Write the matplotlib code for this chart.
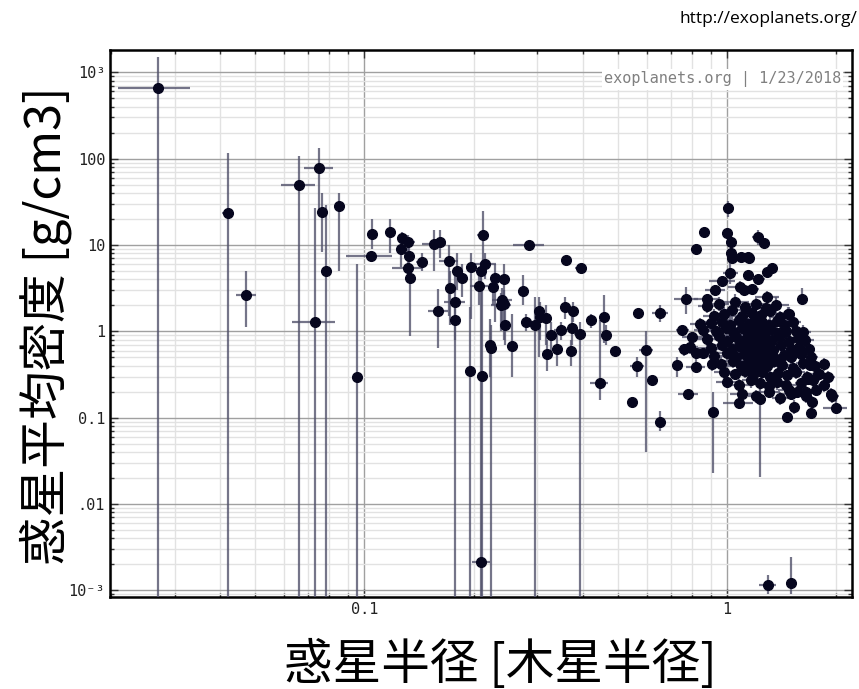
import numpy as np
import matplotlib.pyplot as plt
from matplotlib.ticker import FixedLocator, FixedFormatter, LogLocator, NullFormatter

plt.rcParams['font.family'] = ['Noto Sans CJK JP', 'DejaVu Sans']

BOT = 1e-5  # lower error bar running off the bottom of the plot

# small / mid-size planets: radius [R_J], density [g/cm3], radius error, density bounds
small_radius = [0.027, 0.042, 0.0472, 0.066, 0.075, 0.0765, 0.073, 0.0785, 0.085, 0.0955,
                0.104, 0.105, 0.118, 0.127, 0.1265, 0.132, 0.133, 0.132, 0.134, 0.144,
                0.156, 0.162, 0.16, 0.171, 0.172, 0.178, 0.178, 0.18, 0.186, 0.197,
                0.196, 0.207, 0.21, 0.212, 0.21, 0.211, 0.215, 0.222, 0.224, 0.229,
                0.226, 0.242, 0.24, 0.238, 0.243, 0.244, 0.256, 0.273, 0.279, 0.285,
                0.296, 0.303, 0.305, 0.316, 0.327, 0.318, 0.34, 0.348, 0.357, 0.359,
                0.375, 0.374, 0.372, 0.394, 0.396, 0.421, 0.459, 0.445, 0.464, 0.49,
                0.547, 0.565, 0.568, 0.598, 0.621, 0.654, 0.652, 0.725]
small_density = [658, 23.6, 2.65, 49.5, 78, 24, 1.27, 5.0, 28, 0.295,
                 7.4, 13.4, 14.1, 11.9, 8.9, 10.9, 7.5, 5.44, 4.2, 6.3,
                 10.2, 10.7, 1.73, 6.6, 3.2, 2.2, 1.37, 5.0, 4.2, 5.5,
                 0.352, 3.37, 5.0, 12.9, 0.00215, 0.303, 6.1, 0.69, 0.65, 4.1,
                 3.3, 4.0, 2.3, 2.0, 2.05, 1.2, 0.67, 2.95, 1.28, 10.0,
                 1.2, 1.71, 1.47, 1.43, 0.9, 0.54, 0.63, 1.03, 1.92, 6.68,
                 1.71, 1.08, 0.585, 0.92, 5.36, 1.35, 1.47, 0.25, 0.9, 0.59,
                 0.152, 0.40, 1.61, 0.605, 0.272, 1.61, 0.089, 0.41]
small_rerr = [0.006, 0.0015, 0.003, 0.007, 0.007, 0.002, 0.010, 0.001, 0.001, 0.001,
              0.015, 0.002, 0.002, 0.004, 0.003, 0.006, 0.003, 0.013, 0.002, 0.005,
              0.012, 0.003, 0.010, 0.010, 0.004, 0.012, 0.006, 0.005, 0.003, 0.004,
              0.002, 0.012, 0.005, 0.008, 0.012, 0.002, 0.015, 0.002, 0.002, 0.005,
              0.004, 0.010, 0.015, 0.015, 0.006, 0.008, 0.004, 0.008, 0.003, 0.028,
              0.010, 0.005, 0.004, 0.005, 0.008, 0.005, 0.004, 0.015, 0.008, 0.003,
              0.004, 0.004, 0.004, 0.015, 0.015, 0.003, 0.003, 0.025, 0.005, 0.012,
              0.004, 0.025, 0.004, 0.025, 0.010, 0.035, 0.003, 0.003]
small_dmin = [BOT, BOT, 1.12, BOT, 25, 8.3, BOT, BOT, 5, BOT,
              7.4, 9, 8, 8, 5.5, 8, 5, 4, 0.89, 5,
              5, 7, 0.65, 1.5, 1.2, 0.8, BOT, 3, 2.5, 1.4,
              BOT, 2, 3, 6.3, BOT, BOT, 4, 0.3, BOT, 1.3,
              2, 2.5, 1.3, 1.0, 0.8, 0.7, 0.3, 2, 1.0, 10.0,
              BOT, 0.5, 0.8, 0.7, 0.5, 0.35, 0.4, 0.8, 1.4, 6.68,
              1.3, 0.7, 0.4, BOT, 5.36, 1.1, 0.73, 0.16, 0.7, 0.59,
              0.152, 0.3, 1.61, 0.04, 0.272, 1.3, 0.07, 0.3]
small_dmax = [1500, 116, 5.0, 108, 131, 40, 27, 29, 40, 6,
              7.4, 20, 20, 14, 12, 13, 11, 7, 6, 8,
              15, 15, 3.1, 10, 5, 5, 2, 8, 6, 8,
              1.9, 5, 6, 25, 6.3, 3, 8, 1.4, 1.2, 6,
              4.5, 6, 3.2, 2.8, 3, 1.8, 1.6, 4.5, 1.6, 10.0,
              2.5, 2.5, 2.2, 2.0, 1.3, 0.8, 0.95, 1.3, 2.5, 6.68,
              2.2, 1.5, 0.8, 1.3, 5.36, 1.6, 2.6, 1.35, 1.2, 0.59,
              0.152, 0.5, 1.61, 1.0, 0.272, 2.0, 0.12, 0.5]

# giant planets around the edge of the cluster
giant_radius = [0.772, 0.753, 0.78, 0.821, 0.864, 1.002, 1.008, 1.026, 1.215, 1.265,
                1.026, 1.032, 1.09, 1.14, 1.15, 1.325, 1.289, 1.021, 1.143, 1.218,
                0.969, 0.928, 1.088, 1.11, 1.174, 0.881, 1.61, 1.29, 1.479, 0.762,
                0.792, 0.818, 0.821, 0.909, 0.915, 1.076, 1.228, 1.464, 1.533, 1.687,
                1.665, 1.79, 1.716, 1.928, 1.989, 1.56, 1.644, 1.753, 1.479, 1.51,
                1.698, 1.294, 1.495]
giant_density = [2.38, 1.03, 0.19, 8.9, 14.0, 13.6, 26.5, 10.9, 12.4, 10.4,
                 8.0, 7.0, 7.3, 7.3, 7.0, 5.44, 4.8, 4.7, 4.5, 4.0,
                 3.85, 3.0, 3.3, 3.0, 3.1, 2.34, 2.4, 2.47, 1.58, 0.62,
                 0.66, 0.555, 0.39, 0.417, 0.116, 0.15, 0.163, 0.102, 0.133, 0.406,
                 0.284, 0.325, 0.152, 0.19, 0.131, 0.2, 0.2, 0.208, 0.208, 0.564,
                 0.112, 0.00115, 0.00123]
giant_rerr = [0.06, 0.03, 0.05, 0.01, 0.015, 0.02, 0.035, 0.02, 0.045, 0.02,
              0.02, 0.03, 0.03, 0.04, 0.03, 0.02, 0.03, 0.05, 0.04, 0.05,
              0.08, 0.06, 0.08, 0.05, 0.05, 0.07, 0.03, 0.1, 0.04, 0.03,
              0.04, 0.03, 0.05, 0.03, 0.03, 0.1, 0.05, 0.04, 0.03, 0.05,
              0.04, 0.06, 0.04, 0.03, 0.15, 0.05, 0.04, 0.05, 0.1, 0.04,
              0.04, 0.07, 0.015]
giant_dmin = [1.6, 1.03, 0.19, 8.9, 14, 13.6, 21, 10.9, 10, 10.4,
              6.5, 7.0, 7.3, 7.3, 6.5, 5.0, 4.3, 3.5, 4.0, 3.5,
              3.4, 2.6, 2.8, 2.6, 2.7, 2.0, 2.0, 2.1, 1.3, 0.52,
              0.55, 0.45, 0.33, 0.35, 0.0228, 0.13, 0.0206, 0.09, 0.11, 0.35,
              0.24, 0.28, 0.13, 0.16, 0.11, 0.17, 0.17, 0.18, 0.18, 0.48,
              0.1, 0.0009, 0.0009]
giant_dmax = [3.3, 1.03, 0.19, 8.9, 14, 13.6, 32, 10.9, 15, 10.4,
              9.5, 7.0, 7.3, 7.3, 7.5, 6.0, 5.3, 7.0, 5.0, 4.5,
              4.3, 3.4, 3.8, 3.4, 3.5, 2.7, 3.2, 2.9, 1.9, 0.72,
              0.77, 0.65, 0.45, 0.48, 0.2, 0.17, 0.25, 0.115, 0.16, 0.46,
              0.33, 0.37, 0.18, 0.22, 0.16, 0.23, 0.23, 0.24, 0.24, 0.65,
              0.125, 0.0015, 0.00244]

# dense core of hot Jupiters (symmetric errors)
core_radius = [0.95, 1.05, 1.12, 1.2, 1.28, 1.36, 0.88,
               0.98, 1.03, 1.1, 1.17, 1.24, 1.31, 1.4, 1.47, 0.92,
               0.9, 0.97, 1.02, 1.08, 1.14, 1.19, 1.25, 1.3, 1.37, 1.43, 1.52, 0.84,
               0.86, 0.93, 0.99, 1.04, 1.1, 1.15, 1.2, 1.26, 1.32, 1.38, 1.45, 1.55, 1.62,
               0.88, 0.95, 1.0, 1.06, 1.12, 1.17, 1.22, 1.27, 1.33, 1.4, 1.48, 1.57, 1.64, 0.8,
               0.9, 0.97, 1.03, 1.08, 1.13, 1.18, 1.23, 1.28, 1.34, 1.41, 1.5, 1.58, 1.68,
               0.92, 1.0, 1.06, 1.11, 1.16, 1.21, 1.26, 1.31, 1.36, 1.43, 1.5, 1.6, 1.7, 0.86,
               0.96, 1.04, 1.09, 1.14, 1.19, 1.24, 1.29, 1.35, 1.42, 1.52, 1.62, 1.75, 1.85,
               0.98, 1.05, 1.12, 1.18, 1.25, 1.31, 1.38, 1.46, 1.55, 1.66, 1.78, 1.9,
               1.0, 1.08, 1.16, 1.23, 1.3, 1.37, 1.45, 1.6, 1.72, 1.85,
               1.1, 1.2, 1.3, 1.4, 1.5, 1.65, 1.95,
               1.12, 1.15, 1.18, 1.2, 1.22, 1.25, 1.14, 1.19, 1.24, 1.16, 1.21, 1.27, 1.13, 1.23]
core_density = [2.1, 2.2, 1.9, 2.05, 1.85, 2.0, 1.95,
                1.6, 1.75, 1.5, 1.65, 1.55, 1.7, 1.45, 1.6, 1.5,
                1.25, 1.3, 1.2, 1.35, 1.22, 1.4, 1.28, 1.18, 1.32, 1.2, 1.3, 1.22,
                1.05, 1.0, 1.1, 0.97, 1.08, 0.98, 1.12, 1.0, 1.06, 0.95, 1.02, 1.0, 0.98,
                0.82, 0.88, 0.78, 0.85, 0.8, 0.9, 0.76, 0.86, 0.8, 0.88, 0.78, 0.84, 0.8, 0.85,
                0.65, 0.7, 0.62, 0.68, 0.6, 0.72, 0.64, 0.69, 0.61, 0.7, 0.63, 0.66, 0.62,
                0.52, 0.56, 0.5, 0.55, 0.49, 0.57, 0.51, 0.55, 0.48, 0.53, 0.5, 0.55, 0.5, 0.56,
                0.42, 0.45, 0.4, 0.44, 0.39, 0.43, 0.4, 0.45, 0.41, 0.38, 0.43, 0.4, 0.42,
                0.34, 0.32, 0.35, 0.31, 0.34, 0.3, 0.33, 0.31, 0.34, 0.3, 0.32, 0.3,
                0.26, 0.24, 0.27, 0.25, 0.23, 0.26, 0.24, 0.25, 0.27, 0.24,
                0.19, 0.18, 0.2, 0.17, 0.19, 0.18, 0.18,
                0.72, 0.58, 0.45, 0.82, 0.38, 0.6, 0.93, 0.52, 0.78, 0.36, 0.66, 0.47, 0.41, 0.88]
core_rerr = [0.06, 0.1, 0.05, 0.08, 0.07, 0.12, 0.05,
             0.05, 0.08, 0.12, 0.06, 0.09, 0.05, 0.1, 0.07, 0.06,
             0.06, 0.1, 0.05, 0.08, 0.12, 0.06, 0.09, 0.07, 0.1, 0.06, 0.08, 0.05,
             0.05, 0.08, 0.1, 0.06, 0.12, 0.07, 0.09, 0.1, 0.06, 0.08, 0.1, 0.07, 0.08,
             0.06, 0.08, 0.05, 0.1, 0.07, 0.12, 0.06, 0.09, 0.08, 0.1, 0.06, 0.07, 0.09, 0.05,
             0.07, 0.05, 0.1, 0.08, 0.06, 0.11, 0.07, 0.09, 0.05, 0.1, 0.08, 0.06, 0.07,
             0.06, 0.09, 0.05, 0.1, 0.07, 0.08, 0.12, 0.06, 0.09, 0.07, 0.1, 0.06, 0.08, 0.05,
             0.05, 0.08, 0.1, 0.06, 0.09, 0.07, 0.11, 0.06, 0.08, 0.1, 0.07, 0.09, 0.06,
             0.06, 0.09, 0.07, 0.1, 0.06, 0.08, 0.12, 0.07, 0.09, 0.06, 0.1, 0.08,
             0.07, 0.1, 0.06, 0.08, 0.09, 0.07, 0.1, 0.06, 0.08, 0.07,
             0.08, 0.06, 0.1, 0.07, 0.09, 0.06, 0.08,
             0.08, 0.1, 0.06, 0.12, 0.07, 0.09, 0.1, 0.05, 0.08, 0.11, 0.07, 0.09, 0.06, 0.1]
core_derr = [0.4, 0.5, 0.3, 0.4, 0.3, 0.5, 0.3,
             0.3, 0.35, 0.25, 0.3, 0.3, 0.4, 0.25, 0.3, 0.3,
             0.25, 0.2, 0.3, 0.25, 0.2, 0.3, 0.25, 0.2, 0.3, 0.2, 0.25, 0.2,
             0.2, 0.15, 0.2, 0.2, 0.18, 0.2, 0.25, 0.2, 0.2, 0.15, 0.2, 0.18, 0.2,
             0.15, 0.12, 0.15, 0.18, 0.12, 0.15, 0.14, 0.16, 0.12, 0.15, 0.13, 0.15, 0.14, 0.12,
             0.12, 0.1, 0.12, 0.14, 0.1, 0.12, 0.11, 0.13, 0.1, 0.12, 0.1, 0.11, 0.1,
             0.1, 0.09, 0.1, 0.08, 0.1, 0.09, 0.1, 0.08, 0.09, 0.1, 0.08, 0.1, 0.09, 0.08,
             0.08, 0.07, 0.08, 0.07, 0.08, 0.06, 0.08, 0.07, 0.08, 0.06, 0.07, 0.06, 0.07,
             0.06, 0.05, 0.06, 0.05, 0.06, 0.05, 0.06, 0.05, 0.06, 0.05, 0.05, 0.05,
             0.04, 0.04, 0.05, 0.04, 0.04, 0.05, 0.04, 0.04, 0.05, 0.04,
             0.03, 0.03, 0.03, 0.03, 0.03, 0.03, 0.03,
             0.12, 0.1, 0.08, 0.15, 0.07, 0.1, 0.18, 0.09, 0.14, 0.06, 0.12, 0.08, 0.07, 0.15]

y_ticks = [1e-3, 1e-2, 1e-1, 1, 10, 100, 1000]
y_labels = ['10⁻³', '.01', '0.1', '1', '10', '100', '10³']

marker_color = '#06061e'
err_color = '#52526c'

fig = plt.figure(figsize=(8.59, 6.89), dpi=100)
ax = fig.add_axes([0.128, 0.1335, 0.864, 0.794])

def draw(r, d, rerr, dlo, dhi):
    r = np.array(r)
    d = np.array(d)
    ax.errorbar(r, d, xerr=rerr, yerr=[dlo, dhi], fmt='none',
                ecolor=err_color, elinewidth=1.6, alpha=0.8, zorder=3)
    ax.plot(r, d, 'o', color=marker_color, markersize=7, zorder=4)

d = np.array(small_density)
draw(small_radius, d, small_rerr, d - np.array(small_dmin), np.array(small_dmax) - d)
d = np.array(giant_density)
draw(giant_radius, d, giant_rerr, d - np.array(giant_dmin), np.array(giant_dmax) - d)
draw(core_radius, core_density, core_rerr, core_derr, core_derr)

ax.set_xscale('log')
ax.set_yscale('log')
ax.set_xlim(0.0199, 2.21)
ax.set_ylim(0.00084, 1810)

ax.yaxis.set_major_locator(FixedLocator(y_ticks))
ax.yaxis.set_major_formatter(FixedFormatter(y_labels))
ax.yaxis.set_minor_locator(LogLocator(base=10, subs=np.arange(2, 10)))
ax.yaxis.set_minor_formatter(NullFormatter())
ax.xaxis.set_major_locator(FixedLocator([0.1, 1]))
ax.xaxis.set_major_formatter(FixedFormatter(['0.1', '1']))
ax.xaxis.set_minor_locator(LogLocator(base=10, subs=np.arange(2, 10)))
ax.xaxis.set_minor_formatter(NullFormatter())

ax.grid(which='major', color='#a0a0a0', linewidth=1.0, zorder=0)
ax.grid(which='minor', color='#e2e2e2', linewidth=1.0, zorder=0)
ax.set_axisbelow(True)

ax.tick_params(which='both', direction='in', top=True, right=True, color='#333333')
ax.tick_params(which='major', length=6, width=1)
ax.tick_params(which='minor', length=3, width=1)
for lab in ax.get_xticklabels() + ax.get_yticklabels():
    lab.set_family('DejaVu Sans Mono')
    lab.set_fontsize(11)
    lab.set_color('#222222')
for s in ax.spines.values():
    s.set_linewidth(1.8)
    s.set_color('black')

ax.text(0.985, 0.946, 'exoplanets.org | 1/23/2018', transform=ax.transAxes,
        ha='right', va='center', family='DejaVu Sans Mono', fontsize=11,
        color='#808080', zorder=5,
        bbox=dict(facecolor='white', edgecolor='none', pad=1.5))

fig.text(0.998, 0.972, 'http://exoplanets.org/', ha='right', va='center',
         family='Open Sans', fontsize=12.5, color='black')

fig.text(0.053, 0.528, '惑星平均密度 [g/cm3]', rotation=90, ha='center', va='center',
         fontsize=35)
fig.text(0.582, 0.035, '惑星半径 [木星半径]', ha='center', va='center', fontsize=35)

plt.savefig('out.png', dpi=100)
